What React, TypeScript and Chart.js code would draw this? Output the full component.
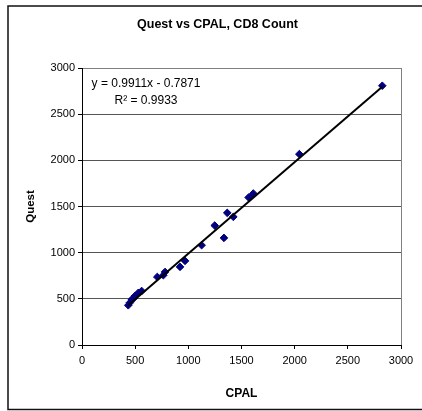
import React, { useEffect, useRef } from "react";
import { Chart, registerables } from "chart.js";

Chart.register(...registerables);

const chartTitle = "Quest vs CPAL, CD8 Count";
const xTitle = "CPAL";
const yTitle = "Quest";
const cpal = [2824, 2044, 1611, 1567, 1423, 1366, 1248, 1335, 1125, 969, 922, 781, 765, 708, 561, 529, 498, 485, 467, 450, 435];
const quest = [2808, 2067, 1641, 1598, 1388, 1431, 1294, 1160, 1081, 911, 846, 791, 756, 737, 585, 564, 531, 505, 492, 458, 430];
const slope = 0.9911;
const intercept = -0.7871;
const eqLabel = "y = 0.9911x - 0.7871";
const r2Label = "R² = 0.9933";
const axisMin = 0;
const axisMax = 3000;
const axisStep = 500;

const FONT = "'Liberation Sans', Arial, sans-serif";

export default function App() {
  const ref = useRef<HTMLCanvasElement | null>(null);
  useEffect(() => {
    if (!ref.current) return;
    const points = cpal.map((x, i) => ({ x, y: quest[i] }));
    const xMin = Math.min(...cpal);
    const xMax = Math.max(...cpal);
    const trend = [
      { x: xMin, y: slope * xMin + intercept },
      { x: xMax, y: slope * xMax + intercept },
    ];
    const deco = {
      id: "deco",
      beforeDraw(chart: any) {
        const c = chart.ctx;
        c.save();
        c.fillStyle = "#fff";
        c.fillRect(0, 0, chart.width, chart.height);
        c.restore();
      },
      afterDraw(chart: any) {
        const c = chart.ctx;
        const a = chart.chartArea;
        c.save();
        c.strokeStyle = "#111";
        c.lineWidth = 1.5;
        c.strokeRect(8, 6, 500, 403.5);
        c.fillStyle = "#000";
        c.textAlign = "center";
        c.textBaseline = "middle";
        c.font = `bold 12.5px ${FONT}`;
        c.fillText(chartTitle, 217.5, 25);
        c.font = `12px ${FONT}`;
        const cx = a.left + 64;
        c.fillText(eqLabel, cx, a.top + 16);
        c.fillText(r2Label, cx, a.top + 33);
        c.restore();
      },
    };
    const fmt = (v: any) => String(v);
    const chart = new Chart(ref.current, {
      type: "scatter",
      data: {
        datasets: [
          {
            type: "line",
            data: trend,
            borderColor: "#000",
            borderWidth: 2,
            pointRadius: 0,
            fill: false,
          } as any,
          {
            data: points,
            pointStyle: "rectRot",
            pointRadius: 3.8,
            backgroundColor: "#000080",
            borderColor: "#000080",
            borderWidth: 1,
          },
        ],
      },
      options: {
        animation: false,
        responsive: false,
        events: [],
        layout: { padding: { left: 13, right: 21, top: 68, bottom: 0 } },
        plugins: {
          legend: { display: false },
          tooltip: { enabled: false },
          title: { display: false },
        },
        scales: {
          x: {
            type: "linear",
            min: axisMin,
            max: axisMax,
            ticks: { stepSize: axisStep, color: "#000", font: { family: FONT, size: 11 }, padding: 5, maxRotation: 0, callback: fmt },
            grid: {
              color: (ctx: any) => (ctx.tick && ctx.tick.value === axisMax ? "#808080" : "rgba(0,0,0,0)"),
              tickColor: "#000",
              tickLength: 4,
              lineWidth: 1,
            },
            border: { color: "#000", width: 1 },
            title: { display: true, text: xTitle, color: "#000", font: { family: FONT, size: 12, weight: "bold" }, padding: { top: 4, bottom: 10 } },
            afterFit: (s: any) => { s.height = 66; },
          },
          y: {
            type: "linear",
            min: axisMin,
            max: axisMax,
            ticks: { stepSize: axisStep, color: "#000", font: { family: FONT, size: 11 }, padding: 3, callback: fmt },
            grid: {
              color: (ctx: any) => {
                const v = ctx.tick && ctx.tick.value;
                if (v === axisMin) return "rgba(0,0,0,0)";
                if (v === axisMax) return "#808080";
                return "#555";
              },
              tickColor: "#000",
              tickLength: 4,
              lineWidth: 1,
            },
            border: { color: "#000", width: 1 },
            title: { display: true, text: yTitle, color: "#000", font: { family: FONT, size: 11.5, weight: "bold" }, padding: { top: 11, bottom: 4 } },
            afterFit: (s: any) => { s.width = 69; },
          },
        },
      },
      plugins: [deco],
    });
    return () => chart.destroy();
  }, []);
  return (
    <div style={{ position: "absolute", left: 0, top: 0, width: 422, height: 411 }}>
      <canvas ref={ref} width={422} height={411} style={{ display: "block" }} />
    </div>
  );
}
